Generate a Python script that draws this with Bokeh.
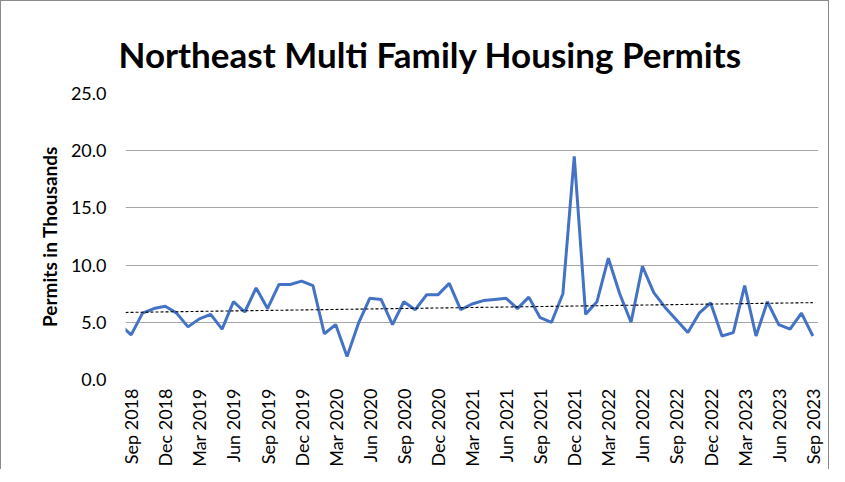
import math
from bokeh.plotting import figure
from bokeh.models import FixedTicker, NumeralTickFormatter, Range1d, ColumnDataSource
from bokeh.embed import file_html
from bokeh.resources import INLINE

# Month index 0 = Sep 2018 ... 60 = Sep 2023 (index -1 = Aug 2018, clipped at plot edge)
month_index = list(range(-1, 61))
permits = [4.8,
           3.9, 5.8, 6.2, 6.4, 5.8, 4.6, 5.3, 5.7, 4.4, 6.8, 5.9, 8.0,
           6.2, 8.3, 8.3, 8.6, 8.2, 4.0, 4.8, 2.0, 4.9, 7.1, 7.0, 4.8,
           6.8, 6.1, 7.4, 7.4, 8.4, 6.1, 6.6, 6.9, 7.0, 7.1, 6.2, 7.2,
           5.4, 5.0, 7.5, 19.5, 5.7, 6.8, 10.6, 7.5, 5.0, 9.9, 7.6, 6.3,
           5.2, 4.1, 5.8, 6.7, 3.8, 4.1, 8.2, 3.8, 6.8, 4.8, 4.4, 5.8,
           3.8]
# linear trendline as drawn in the chart (start / end values)
trend_x = [-0.5, 60.0]
trend_y = [5.86, 6.72]
tick_positions = list(range(0, 61, 3))
tick_labels = ["Sep 2018", "Dec 2018", "Mar 2019", "Jun 2019", "Sep 2019", "Dec 2019",
               "Mar 2020", "Jun 2020", "Sep 2020", "Dec 2020", "Mar 2021", "Jun 2021",
               "Sep 2021", "Dec 2021", "Mar 2022", "Jun 2022", "Sep 2022", "Dec 2022",
               "Mar 2023", "Jun 2023", "Sep 2023"]
y_ticks = [0, 5, 10, 15, 20, 25]

p = figure(frame_width=693, frame_height=286, output_backend="svg", toolbar_location=None,
           x_range=Range1d(-0.5, 60.5), y_range=Range1d(0, 25),
           min_border_left=124, min_border_right=10, min_border_top=92, min_border_bottom=80)
p.styles = {"border-top": "1px solid #8a8a8a", "border-left": "1px solid #8a8a8a",
            "border-right": "1px solid #8a8a8a"}
p.outline_line_color = None

p.title.text = "Northeast  Multi Family Housing Permits"
p.title.text_font = "Lato"
p.title.text_font_style = "bold"
p.title.text_font_size = "35px"
p.title.align = "left"
p.title.offset = -7
p.title.standoff = 37
p.title.text_color = "#000000"

src = ColumnDataSource(dict(x=month_index, y=permits))
p.line("x", "y", source=src, line_color="#4472C4", line_width=3)
p.line(trend_x, trend_y, line_color="black", line_width=1.1, line_dash="3 2")

p.xaxis.ticker = FixedTicker(ticks=tick_positions)
p.xaxis.major_label_overrides = {t: l for t, l in zip(tick_positions, tick_labels)}
p.xaxis.major_label_orientation = math.pi / 2
p.xaxis.major_label_text_font = "Lato"
p.xaxis.major_label_text_font_size = "18px"
p.xaxis.major_label_text_color = "#000000"
p.xaxis.major_label_standoff = 9
p.xaxis.major_tick_out = 0
p.xaxis.axis_line_color = None
p.xaxis.major_tick_line_color = None
p.xaxis.minor_tick_line_color = None

p.yaxis.ticker = FixedTicker(ticks=y_ticks)
p.yaxis.formatter = NumeralTickFormatter(format="0.0")
p.yaxis.major_label_text_font = "Lato"
p.yaxis.major_label_text_font_size = "18px"
p.yaxis.major_label_text_color = "#000000"
p.yaxis.major_label_standoff = 19
p.yaxis.major_tick_out = 0
p.yaxis.axis_line_color = None
p.yaxis.major_tick_line_color = None
p.yaxis.minor_tick_line_color = None
p.yaxis.axis_label = "Permits in Thousands"
p.yaxis.axis_label_text_font = "Lato"
p.yaxis.axis_label_text_font_style = "bold"
p.yaxis.axis_label_text_font_size = "19px"
p.yaxis.axis_label_text_color = "#000000"
p.yaxis.axis_label_standoff = 7

p.xgrid.grid_line_color = None
p.ygrid.grid_line_color = "#a6a6a6"
p.ygrid.grid_line_width = 1

open("out.html", "w").write(file_html(p, INLINE))
